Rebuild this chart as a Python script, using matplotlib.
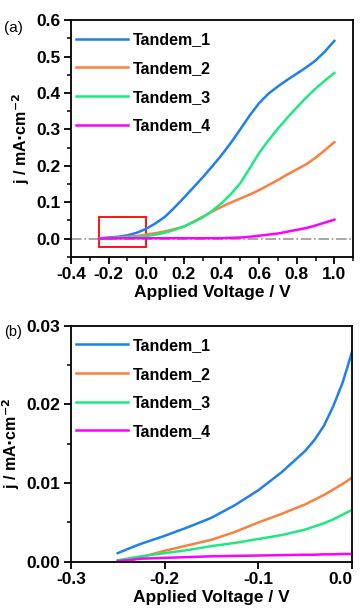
import matplotlib.pyplot as plt
from matplotlib.patches import Rectangle
from matplotlib.ticker import MultipleLocator

# datos (a)
va = [-0.25, -0.2, -0.15, -0.1, -0.05, 0.0, 0.05, 0.1, 0.15, 0.2, 0.25, 0.3, 0.35, 0.4,
      0.45, 0.5, 0.55, 0.6, 0.65, 0.7, 0.75, 0.8, 0.85, 0.9, 0.95, 1.0]
t1_a = [0.001, 0.003, 0.005, 0.009, 0.016, 0.027, 0.042, 0.060, 0.085, 0.112, 0.140, 0.168,
        0.198, 0.229, 0.263, 0.300, 0.338, 0.372, 0.398, 0.418, 0.436, 0.453, 0.470, 0.489, 0.514, 0.543]
t2_a = [0.0, 0.001, 0.003, 0.005, 0.007, 0.011, 0.015, 0.020, 0.026, 0.033, 0.046, 0.060,
        0.074, 0.087, 0.099, 0.110, 0.121, 0.133, 0.147, 0.161, 0.176, 0.190, 0.204, 0.222, 0.243, 0.265]
t3_a = [0.0, 0.001, 0.002, 0.003, 0.004, 0.007, 0.011, 0.016, 0.024, 0.033, 0.045, 0.058,
        0.076, 0.097, 0.122, 0.152, 0.193, 0.235, 0.270, 0.302, 0.332, 0.360, 0.387, 0.412, 0.434, 0.455]
t4_a = [0.0, 0.0005, 0.0006, 0.0008, 0.0009, 0.001, 0.001, 0.001, 0.001, 0.001, 0.001, 0.001,
        0.001, 0.0012, 0.002, 0.003, 0.005, 0.008, 0.011, 0.014, 0.019, 0.024, 0.029, 0.036, 0.044, 0.052]

# datos (b)
vb = [-0.25, -0.24, -0.225, -0.2, -0.175, -0.15, -0.125, -0.1, -0.075, -0.05, -0.04, -0.03, -0.02, -0.01, 0.0]
t1_b = [0.0011, 0.0016, 0.0023, 0.0033, 0.0044, 0.0056, 0.0072, 0.0091, 0.0114, 0.0141, 0.0155,
        0.0173, 0.0198, 0.0228, 0.0267]
t2_b = [None, 0.0, 0.0006, 0.0014, 0.0021, 0.0028, 0.0038, 0.0050, 0.0061, 0.0073, 0.0079,
        0.0085, 0.0092, 0.0099, 0.0107]
t3_b = [0.0002, 0.0004, 0.0007, 0.0011, 0.0015, 0.0020, 0.0024, 0.0029, 0.0034, 0.0041, 0.0045,
        0.0049, 0.0054, 0.0060, 0.0066]
t4_b = [0.0001, 0.0002, 0.0004, 0.0005, 0.0006, 0.0007, 0.00075, 0.0008, 0.00085, 0.0009, 0.0009,
        0.00095, 0.00095, 0.001, 0.001]

nombres = ['Tandem_1', 'Tandem_2', 'Tandem_3', 'Tandem_4']
colores = ['#1f80ea', '#fb8040', '#20e880', '#ff00ff']

plt.rcParams['font.family'] = 'Liberation Sans'
plt.rcParams['font.weight'] = 'bold'
plt.rcParams['axes.labelweight'] = 'bold'

fig = plt.figure(figsize=(3.6, 6.1), dpi=100)
ax1 = fig.add_axes([0.197, 0.579, 0.784, 0.388])
ax2 = fig.add_axes([0.197, 0.079, 0.781, 0.387])


def estilo(ax):
    for s in ax.spines.values():
        s.set_linewidth(1.3)
    ax.tick_params(which='major', direction='out', length=5, width=1.3, labelsize=12.5,
                   top=False, right=False, pad=2.5)
    ax.tick_params(which='minor', direction='out', length=3, width=1.1, top=False, right=False)
    ax.set_xlabel('Applied Voltage / V', fontsize=12.5, labelpad=2)
    ax.set_ylabel('j / mA$\\cdot$cm$^{-2}$', fontsize=11.5, labelpad=3)
    ax.legend(loc='upper left', bbox_to_anchor=(0.0, 0.968), frameon=False,
              handlelength=3.25, handletextpad=0.3, labelspacing=0.85, fontsize=11.5,
              borderaxespad=0.0, borderpad=0.3)


# Grafica (a)
for y, n, c in zip([t1_a, t2_a, t3_a, t4_a], nombres, colores):
    ax1.plot(va, y, color=c, lw=1.8, label=n)
ax1.axhline(0, color='#999999', ls='-.', lw=1.2, zorder=0)
ax1.add_patch(Rectangle((-0.25, -0.022), 0.25, 0.082, fill=False, edgecolor='red', lw=1.3))
ax1.set_xlim(-0.4, 1.1)
ax1.set_ylim(-0.05, 0.6)
ax1.xaxis.set_minor_locator(MultipleLocator(0.1))
ax1.yaxis.set_minor_locator(MultipleLocator(0.05))
ax1.set_xticks([-0.4, -0.2, 0.0, 0.2, 0.4, 0.6, 0.8, 1.0])
ax1.set_xticklabels(['-0.4', '-0.2', '0.0', '0.2', '0.4', '0.6', '0.8', '1.0'])
ax1.set_yticks([0.0, 0.1, 0.2, 0.3, 0.4, 0.5, 0.6])
ax1.set_yticklabels(['0.0', '0.1', '0.2', '0.3', '0.4', '0.5', '0.6'])
estilo(ax1)

# Grafica (b)
for y, n, c in zip([t1_b, t2_b, t3_b, t4_b], nombres, colores):
    xs = [v for v, j in zip(vb, y) if j is not None]
    ys = [j for j in y if j is not None]
    ax2.plot(xs, ys, color=c, lw=1.8, label=n)
ax2.set_xlim(-0.3, 0.0)
ax2.set_ylim(0.0, 0.03)
ax2.set_xticks([-0.3, -0.2, -0.1, 0.0])
ax2.set_xticklabels(['-0.3', '-0.2', '-0.1', '0.0'])
ax2.set_yticks([0.0, 0.01, 0.02, 0.03])
ax2.set_yticklabels(['0.00', '0.01', '0.02', '0.03'])
ax2.yaxis.set_minor_locator(MultipleLocator(0.005))
estilo(ax2)
# la etiqueta 0.0 queda pegada al borde derecho
ax2.get_xticklabels()[-1].set_horizontalalignment('right')

fig.text(0.012, 0.947, '(a)', fontsize=11, fontweight='normal')
fig.text(0.012, 0.449, '(b)', fontsize=10.5, fontweight='normal')

plt.savefig('out.png', dpi=100)
plt.close()
